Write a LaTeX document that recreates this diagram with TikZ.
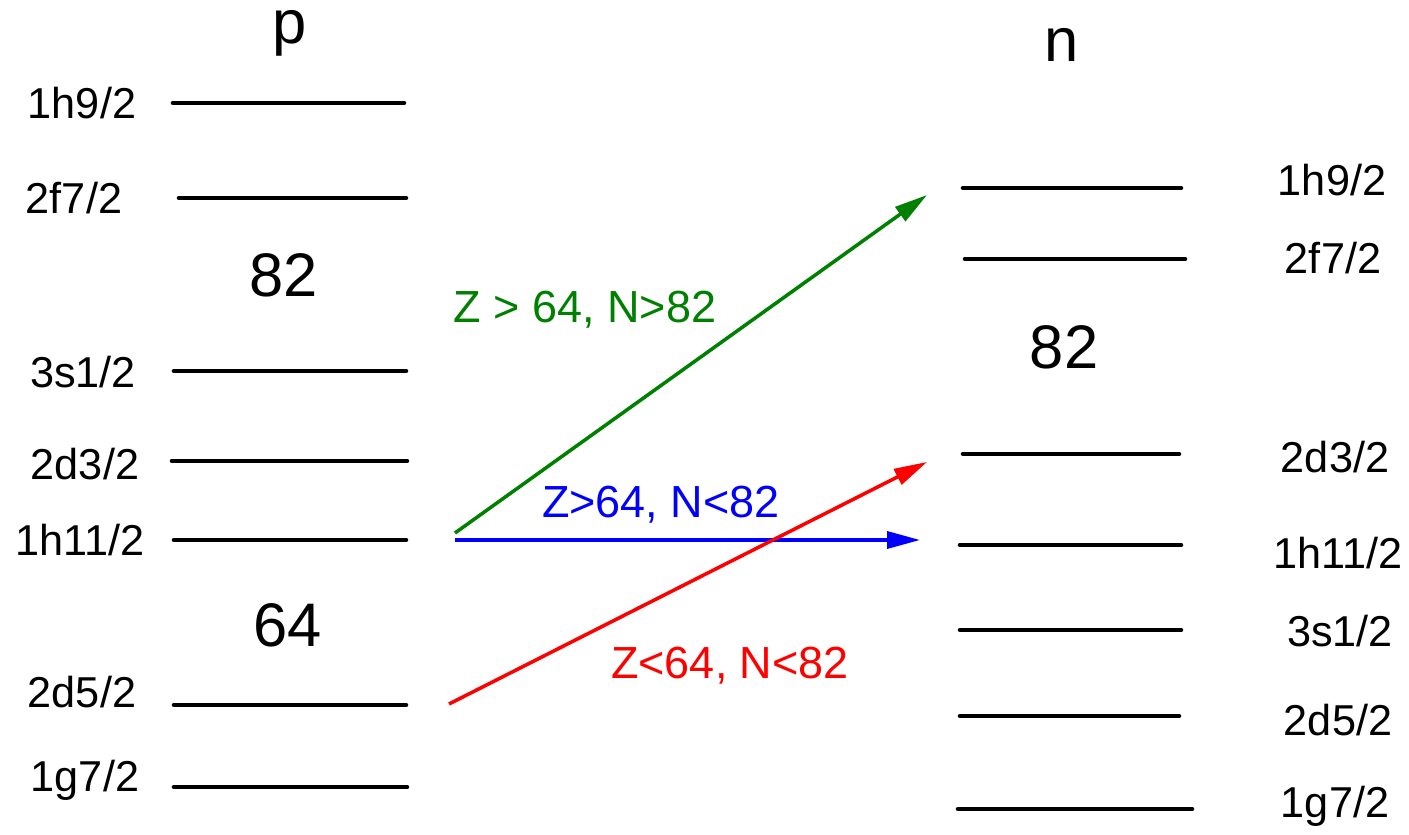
\documentclass[tikz,border=0pt]{standalone}
\usepackage{fontspec}
\setmainfont{Liberation Sans}
\usetikzlibrary{arrows.meta}
\definecolor{ArrGreen}{HTML}{008000}
\definecolor{ArrBlue}{HTML}{0000FF}
\definecolor{ArrRed}{HTML}{FF0000}

\begin{document}
\begin{tikzpicture}[x=1cm,y=1cm,
  lvl/.style={line width=1.3pt,line cap=round},
  lbl/.style={inner sep=0pt,font=\fontsize{12.3}{14}\selectfont},
  magic/.style={inner sep=0pt,font=\fontsize{17.5}{20}\selectfont},
  trans/.style={line width=1pt,-{Triangle[length=0.33cm,width=0.17cm]}},
  tlbl/.style={inner sep=0pt,font=\fontsize{12.8}{15}\selectfont}]
\path[use as bounding box] (0,0) rectangle (14.09,8.34);
% proton levels
\node[magic] (ptitle) at (2.90,8.01) {p};
\draw[lvl] (1.73,7.31) -- (4.04,7.31);
\node[lbl] (p1h9) at (0.82,7.31) {1h9/2};
\draw[lvl] (1.79,6.36) -- (4.06,6.36);
\node[lbl] (p2f7) at (0.74,6.36) {2f7/2};
\node[magic] (p82) at (2.84,5.59) {82};
\draw[lvl] (1.74,4.63) -- (4.06,4.63);
\node[lbl] (p3s1) at (0.83,4.62) {3s1/2};
\draw[lvl] (1.72,3.73) -- (4.07,3.73);
\node[lbl] (p2d3) at (0.85,3.70) {2d3/2};
\draw[lvl] (1.74,2.94) -- (4.06,2.94);
\node[lbl] (p1h11) at (0.80,2.94) {1h11/2};
\node[magic] (p64) at (2.88,2.09) {64};
\draw[lvl] (1.74,1.29) -- (4.06,1.29);
\node[lbl] (p2d5) at (0.82,1.42) {2d5/2};
\draw[lvl] (1.74,0.47) -- (4.07,0.47);
\node[lbl] (p1g7) at (0.85,0.54) {1g7/2};
% neutron levels
\node[magic] (ntitle) at (10.62,7.89) {n};
\draw[lvl] (9.63,6.46) -- (11.81,6.46);
\node[lbl] (n1h9) at (13.32,6.54) {1h9/2};
\draw[lvl] (9.65,5.75) -- (11.85,5.75);
\node[lbl] (n2f7) at (13.33,5.76) {2f7/2};
\node[magic] (n82) at (10.64,4.87) {82};
\draw[lvl] (9.63,3.80) -- (11.79,3.80);
\node[lbl] (n2d3) at (13.35,3.77) {2d3/2};
\draw[lvl] (9.60,2.89) -- (11.81,2.89);
\node[lbl] (n1h11) at (13.38,2.81) {1h11/2};
\draw[lvl] (9.60,2.04) -- (11.81,2.04);
\node[lbl] (n3s1) at (13.40,2.03) {3s1/2};
\draw[lvl] (9.60,1.18) -- (11.79,1.18);
\node[lbl] (n2d5) at (13.38,1.14) {2d5/2};
\draw[lvl] (9.58,0.25) -- (11.92,0.25);
\node[lbl] (n1g7) at (13.35,0.28) {1g7/2};
% transitions
\coordinate (gs) at (4.55,3.01);
\coordinate (ge) at (9.27,6.39);
\coordinate (bs) at (4.55,2.94);
\coordinate (be) at (9.20,2.94);
\coordinate (rs) at (4.49,1.30);
\coordinate (re) at (9.27,3.72);
\draw[trans,ArrGreen] (gs) -- (ge);
\draw[trans,ArrBlue] (bs) -- (be);
\draw[trans,ArrRed] (rs) -- (re);
\node[tlbl,text=ArrGreen] (glbl) at (5.85,5.24) {Z > 64, N>82};
\node[tlbl,text=ArrBlue] (blbl) at (6.61,3.29) {Z>64, N<82};
\node[tlbl,text=ArrRed] (rlbl) at (7.30,1.68) {Z<64, N<82};
\end{tikzpicture}
\end{document}
